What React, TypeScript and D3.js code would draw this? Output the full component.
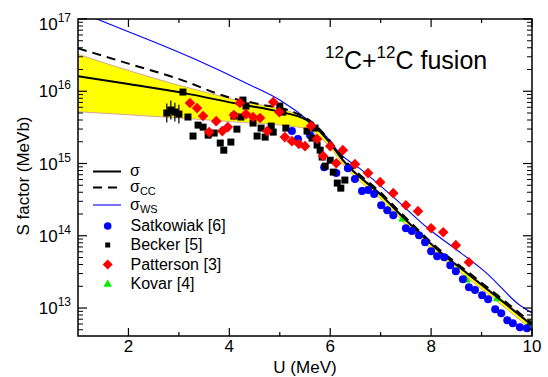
import * as d3 from "d3";

// ---- data (U in MeV, S in MeV b) ----
const satU = [5.24, 5.36, 5.6, 5.88, 6.12, 6.35, 6.49, 6.63, 6.75, 6.87, 7.01, 7.13, 7.25, 7.5, 7.62, 7.76, 7.88, 8.0, 8.12, 8.26, 8.38, 8.49, 8.63, 8.75, 8.87, 9.01, 9.13, 9.27, 9.39, 9.51, 9.62, 9.76, 9.9];
const satS = [2.81e15, 2.18e15, 2.47e15, 8.9e14, 7.37e14, 8.63e14, 6.08e14, 4.15e14, 4.29e14, 3.77e14, 2.65e14, 2.26e14, 1.93e14, 1.27e14, 1.16e14, 1.02e14, 8.15e13, 6.12e13, 5.21e13, 5.05e13, 3.92e13, 3.24e13, 2.51e13, 1.94e13, 1.77e13, 1.5e13, 1.32e13, 9.6e12, 8.47e12, 6.78e12, 6.15e12, 5.42e12, 5.25e12];

const beckerU = [2.76, 2.84, 2.92, 3.0, 3.08, 3.18, 3.28, 3.38, 3.48, 3.58, 3.7, 3.82, 3.89, 4.03, 4.09, 4.15, 4.23, 4.27, 4.33, 4.47, 4.55, 4.63, 4.71, 4.83, 4.87, 5.0, 5.06, 5.12, 5.54, 5.64, 5.7, 5.74, 5.8, 5.84, 5.9, 6.0, 6.06, 6.14, 6.21, 6.29];
const beckerS = [5.0e15, 5.5e15, 5.15e15, 4.83e15, 9.75e15, 4.4e15, 2.4e15, 3.4e15, 3.19e15, 2.47e15, 2.64e15, 1.92e15, 1.53e15, 1.98e15, 4.54e15, 2.99e15, 4.4e15, 7.55e15, 6.24e15, 3.63e15, 2.4e15, 3.09e15, 2.32e15, 3.3e15, 2.72e15, 6.24e15, 5.15e15, 3.09e15, 2.81e15, 2.25e15, 3.09e15, 1.8e15, 1.53e15, 1.23e15, 9.2e14, 1.11e15, 7.6e14, 5.36e14, 4.56e14, 5.9e14];
// the first four Becker points carry error bars (in decades)
const beckerErr = [0.13, 0.13, 0.13, 0.13];

const pattU = [3.22, 3.36, 3.48, 3.6, 3.74, 3.86, 3.97, 4.09, 4.21, 4.33, 4.47, 4.61, 4.75, 4.87, 4.99, 5.1, 5.24, 5.38, 5.5, 5.62, 5.74, 5.86, 6.0, 6.12, 6.25, 6.49, 6.75, 6.99, 7.25, 7.5, 7.74, 8.0, 8.24, 8.49, 8.75];
const pattS = [6.87e15, 5.85e15, 4.54e15, 2.72e15, 3.86e15, 2.81e15, 3.19e15, 4.68e15, 6.87e15, 4.83e15, 4.4e15, 4.26e15, 2.81e15, 7.08e15, 5.15e15, 2.32e15, 2.04e15, 1.86e15, 1.74e15, 3.3e15, 2.18e15, 1.27e15, 1.74e15, 1.01e15, 1.53e15, 9.8e14, 7.37e14, 5.52e14, 3.89e14, 2.65e14, 2.19e14, 1.27e14, 1.12e14, 7.41e13, 4.31e13];

const kovarU = [7.44, 8.69, 9.32, 9.96];
const kovarS = [1.74e14, 2.48e13, 1.37e13, 6.15e12];

const sigU = [1, 2, 3.08, 4.21, 5.0, 5.53, 5.66, 6.0, 6.25, 7.05, 7.44, 8.18, 8.71, 9.31, 10];
const sigS = [1.62e16, 1.26e16, 9.5e15, 6.6e15, 5.2e15, 4.0e15, 3.4e15, 1.9e15, 1.11e15, 3.43e14, 1.81e14, 5.93e13, 3.03e13, 1.41e13, 5.78e12];

const ccU = [1, 2, 3.02, 3.95, 4.61, 5.26, 5.66, 6.0, 6.25, 7.05, 7.44, 8.18, 8.71, 9.31, 10];
const ccS = [3.93e16, 2.41e16, 1.46e16, 8.4e15, 6.6e15, 5.2e15, 3.63e15, 2.04e15, 1.2e15, 3.67e14, 1.95e14, 6.3e13, 3.24e13, 1.51e13, 6.17e12];

const wsU = [1, 1.37, 3.28, 4.41, 5.0, 5.6, 5.93, 6.19, 6.59, 7.28, 7.98, 8.43, 9.11, 9.76, 10];
const wsS = [1.27e17, 1.0e17, 2.86e16, 1.22e16, 7.55e15, 3.78e15, 2.34e15, 1.38e15, 8.5e14, 3.29e14, 1.2e14, 7.0e13, 3.0e13, 1.09e13, 8.55e12];

const bandU = [1, 2.63, 4.07, 5.53, 5.66, 6.0, 6.25, 7.05, 7.44, 8.18, 8.71, 9.31, 10];
const bandLo = [5.2e15, 4.44e15, 3.78e15, 3.06e15, 2.75e15, 1.66e15, 9.8e14, 2.99e14, 1.58e14, 5.1e13, 2.64e13, 1.23e13, 5.0e12];
const bandHi = [3.24e16, 1.43e16, 7.73e15, 4.22e15, 3.63e15, 2.0e15, 1.16e15, 3.6e14, 1.9e14, 6.2e13, 3.17e13, 1.48e13, 6.05e12];

const xTicks = [2, 4, 6, 8, 10];
const xMinor = [3, 5, 7, 9];
const yExps = [13, 14, 15, 16, 17];

const W = 548;
const H = 377;
const FONT = "'Liberation Sans', Arial, sans-serif";

const x = d3.scaleLinear().domain([1, 10]).range([78, 532]);
const y = d3.scaleLog().domain([4.1e12, 1e17]).range([336, 19]);

type Pt = [number, number];
const zip = (u: number[], s: number[]): Pt[] => u.map((d, i) => [d, s[i]]);

const line = d3
  .line<Pt>()
  .x((d) => x(d[0]))
  .y((d) => y(d[1]))
  .curve(d3.curveMonotoneX);

const band = d3
  .area<number>()
  .x((d) => x(d))
  .y0((_, i) => y(bandLo[i]))
  .y1((_, i) => y(bandHi[i]))
  .curve(d3.curveMonotoneX);

const yMinor: number[] = [];
for (let e = 12; e <= 16; e++) {
  for (let m = 2; m <= 9; m++) {
    const v = m * Math.pow(10, e);
    if (v >= 4.1e12 && v <= 1e17) yMinor.push(v);
  }
}

function Square({ cx, cy, s }: { cx: number; cy: number; s: number }) {
  return <rect x={cx - s / 2} y={cy - s / 2} width={s} height={s} fill="#000" />;
}
function Diamond({ cx, cy, r }: { cx: number; cy: number; r: number }) {
  return <path d={`M${cx},${cy - r}L${cx + r},${cy}L${cx},${cy + r}L${cx - r},${cy}Z`} fill="#ff0000" />;
}
function Tri({ cx, cy, r }: { cx: number; cy: number; r: number }) {
  return (
    <path
      d={`M${cx},${cy - r}L${cx + r * 0.95},${cy + r * 0.6}L${cx - r * 0.95},${cy + r * 0.6}Z`}
      fill="#00ee00"
    />
  );
}

export default function App() {
  const [x0, x1] = x.range();
  const [yb, yt] = y.range();

  return (
    <svg
      width={W}
      height={H}
      style={{ position: "absolute", left: 0, top: 0, background: "#fff" }}
      fontFamily={FONT}
    >
      <defs>
        <clipPath id="plot">
          <rect x={x0} y={yt} width={x1 - x0} height={yb - yt} />
        </clipPath>
      </defs>

      <g clipPath="url(#plot)">
        {/* yellow uncertainty band */}
        <path d={band(bandU) || ""} fill="#ffff00" stroke="#d4a890" strokeWidth={1} />

        {/* Kovar */}
        {kovarU.map((u, i) => (
          <Tri key={i} cx={x(u)} cy={y(kovarS[i])} r={5} />
        ))}

        {/* curves */}
        <path d={line(zip(wsU, wsS)) || ""} fill="none" stroke="#0000ff" strokeWidth={1.1} />
        <path d={line(zip(ccU, ccS)) || ""} fill="none" stroke="#000" strokeWidth={2} strokeDasharray="9,6" />
        <path d={line(zip(sigU, sigS)) || ""} fill="none" stroke="#000" strokeWidth={2} />

        {/* Satkowiak */}
        {satU.map((u, i) => (
          <circle key={i} cx={x(u)} cy={y(satS[i])} r={4} fill="#0000ff" />
        ))}

        {/* Becker */}
        {beckerErr.map((e, i) => (
          <line
            key={"e" + i}
            x1={x(beckerU[i])}
            x2={x(beckerU[i])}
            y1={y(beckerS[i] * Math.pow(10, e))}
            y2={y(beckerS[i] / Math.pow(10, e))}
            stroke="#000"
            strokeWidth={1.2}
          />
        ))}
        {beckerU.map((u, i) => (
          <Square key={i} cx={x(u)} cy={y(beckerS[i])} s={7} />
        ))}

        {/* Patterson */}
        {pattU.map((u, i) => (
          <Diamond key={i} cx={x(u)} cy={y(pattS[i])} r={5.3} />
        ))}
      </g>

      {/* frame */}
      <rect x={x0} y={yt} width={x1 - x0} height={yb - yt} fill="none" stroke="#000" strokeWidth={1.5} />

      {/* x ticks, bottom and top */}
      {xTicks.concat(xMinor).map((t) => {
        const len = xTicks.includes(t) ? 8 : 4;
        return (
          <g key={"xt" + t} stroke="#000" strokeWidth={1.2}>
            <line x1={x(t)} x2={x(t)} y1={yb} y2={yb - len} />
            <line x1={x(t)} x2={x(t)} y1={yt} y2={yt + len} />
          </g>
        );
      })}
      {xTicks.map((t) => (
        <text key={"xl" + t} x={x(t)} y={352} fontSize={17} textAnchor="middle">
          {t}
        </text>
      ))}

      {/* y ticks, left and right */}
      {yExps.map((e) => {
        const v = Math.pow(10, e);
        return (
          <g key={"yt" + e} stroke="#000" strokeWidth={1.2}>
            <line x1={x0} x2={x0 + 9} y1={y(v)} y2={y(v)} />
            <line x1={x1} x2={x1 - 9} y1={y(v)} y2={y(v)} />
          </g>
        );
      })}
      {yMinor.map((v, i) => (
        <g key={"ym" + i} stroke="#000" strokeWidth={1}>
          <line x1={x0} x2={x0 + 5} y1={y(v)} y2={y(v)} />
          <line x1={x1} x2={x1 - 5} y1={y(v)} y2={y(v)} />
        </g>
      ))}
      {yExps.map((e) => {
        const base = Math.max(y(Math.pow(10, e)) + 6, 30);
        return (
          <text key={"yl" + e} x={71} y={base} fontSize={17} textAnchor="end">
            10
            <tspan fontSize={12} dy={-8}>
              {e}
            </tspan>
          </text>
        );
      })}

      {/* axis titles */}
      <text x={305} y={373} fontSize={17} textAnchor="middle">
        U (MeV)
      </text>
      <text transform="translate(29,176) rotate(-90)" fontSize={17} textAnchor="middle">
        S factor (MeVb)
      </text>

      {/* reaction label */}
      <text x={325} y={69} fontSize={25}>
        <tspan fontSize={17} dy={-11}>12</tspan>
        <tspan dy={11}>C+</tspan>
        <tspan fontSize={17} dy={-11}>12</tspan>
        <tspan dy={11}>C fusion</tspan>
      </text>

      {/* legend */}
      <g fontSize={16}>
        <line x1={93} x2={121} y1={171.5} y2={171.5} stroke="#000" strokeWidth={2} />
        <text x={130} y={176}>σ</text>
        <line x1={93} x2={121} y1={187.5} y2={187.5} stroke="#000" strokeWidth={2} strokeDasharray="9,6" />
        <text x={130} y={192}>
          σ<tspan fontSize={11} dy={3}>CC</tspan>
        </text>
        <line x1={93} x2={121} y1={205} y2={205} stroke="#0000ff" strokeWidth={1.1} />
        <text x={130} y={209.5}>
          σ<tspan fontSize={11} dy={3}>WS</tspan>
        </text>

        <circle cx={107.7} cy={226} r={3.8} fill="#0000ff" />
        <text x={130.5} y={231}>Satkowiak [6]</text>
        <Square cx={107.7} cy={245} s={5} />
        <text x={130.5} y={250}>Becker [5]</text>
        <Diamond cx={107.7} cy={264.5} r={5} />
        <text x={130.5} y={269.5}>Patterson [3]</text>
        <Tri cx={107.7} cy={284} r={4.5} />
        <text x={130.5} y={289}>Kovar [4]</text>
      </g>
    </svg>
  );
}
